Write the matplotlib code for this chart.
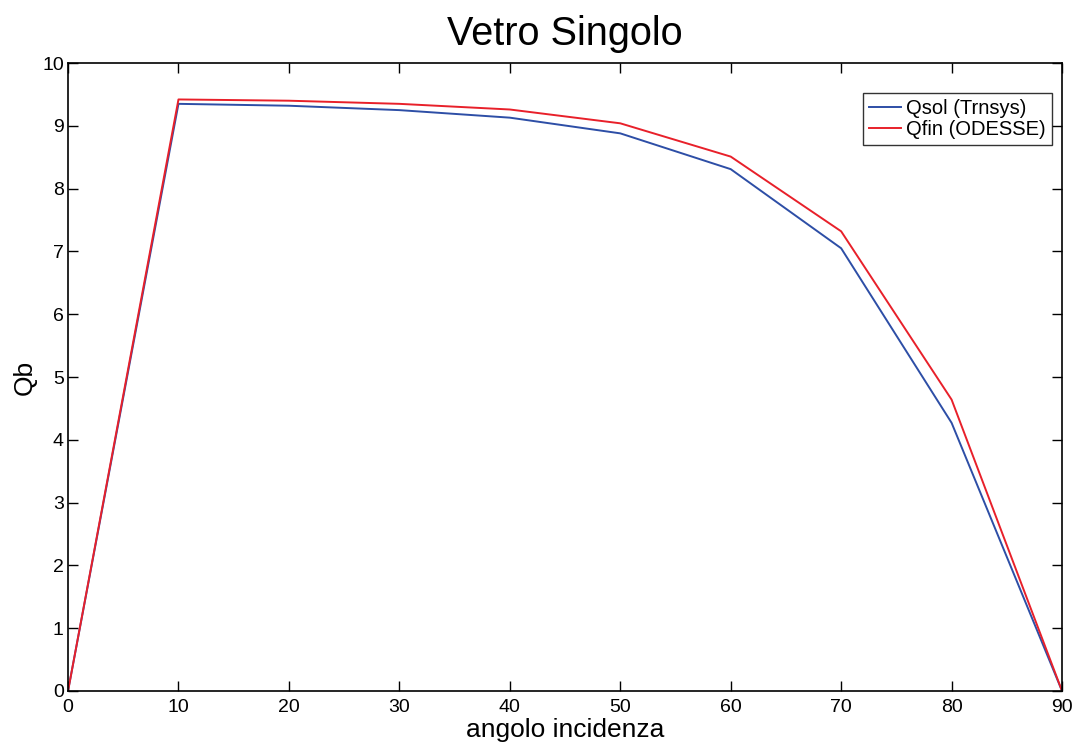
import numpy as np
import matplotlib.pyplot as plt

plt.rcParams['font.family'] = ['Liberation Sans', 'DejaVu Sans']

# données
angolo = [0, 10, 20, 30, 40, 50, 60, 70, 80, 90]
qsol_trnsys = [0, 9.35, 9.32, 9.25, 9.13, 8.88, 8.31, 7.05, 4.27, 0]
qfin_odesse = [0, 9.42, 9.40, 9.35, 9.26, 9.04, 8.51, 7.32, 4.64, 0]

fig = plt.figure(figsize=(10.78, 7.45), dpi=100)
ax = fig.add_axes([0.0631, 0.0725, 0.9221, 0.8429])

ax.plot(angolo, qsol_trnsys, color='#2d4ea6', lw=1.4, label='Qsol (Trnsys)')
ax.plot(angolo, qfin_odesse, color='#e8202a', lw=1.4, label='Qfin (ODESSE)')

ax.set_xlim(0, 90)
ax.set_ylim(0, 10)
ax.set_xticks(np.arange(0, 91, 10))
ax.set_yticks(np.arange(0, 11, 1))
ax.tick_params(direction='in', top=True, right=True, length=7, width=1,
               labelsize=14)
ax.tick_params(axis='x', pad=6)
ax.tick_params(axis='y', pad=3)
for s in ax.spines.values():
    s.set_linewidth(1.2)

ax.set_title('Vetro Singolo', fontsize=28.5, pad=13)
ax.set_xlabel('angolo incidenza', fontsize=19, labelpad=1)
ax.set_ylabel('Qb', fontsize=19, labelpad=4)

leg = ax.legend(loc='upper right', fontsize=14.5, frameon=True, fancybox=False,
                edgecolor='black', handlelength=1.6, handletextpad=0.25,
                borderpad=0.3, labelspacing=0.12, borderaxespad=0,
                bbox_to_anchor=(0.990, 0.953))
leg.get_frame().set_linewidth(1.0)

fig.savefig('out.png', dpi=100)
